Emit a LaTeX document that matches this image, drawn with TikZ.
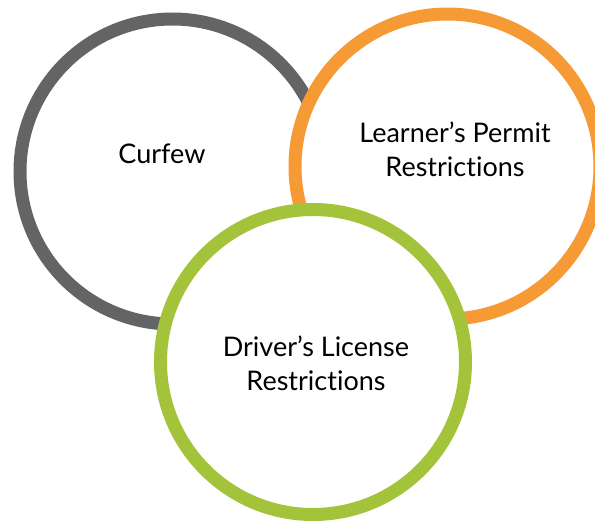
\documentclass[tikz,border=0pt]{standalone}
\usepackage{fontspec}
\setmainfont[Ligatures={NoCommon,NoDiscretionary,NoRare}]{Lato}
\definecolor{cgray}{HTML}{636466}
\definecolor{corange}{HTML}{F69A35}
\definecolor{cgreen}{HTML}{A3C43A}
\begin{document}
\begin{tikzpicture}[x=1pt,y=-1pt,
  ring/.style={circle,draw=#1,line width=13pt,fill=white,minimum size=305pt,inner sep=0pt},
  lbl/.style={font=\fontsize{27}{34}\selectfont,align=center,text=black}]
\useasboundingbox (0,0) rectangle (595,520);
\node[ring=cgray] (cur) at (172.5,171.5) {};
\node[ring=corange] (lrn) at (447.5,166.5) {};
\node[ring=cgreen] (drv) at (313,362) {};
\node[lbl] (curt) at (162,154) {Curfew};
\node[lbl] (lrnt) at (455,149) {Learner’s Permit\\Restrictions};
\node[lbl] (drvt) at (316,363) {Driver’s License\\Restrictions};
\end{tikzpicture}
\end{document}
